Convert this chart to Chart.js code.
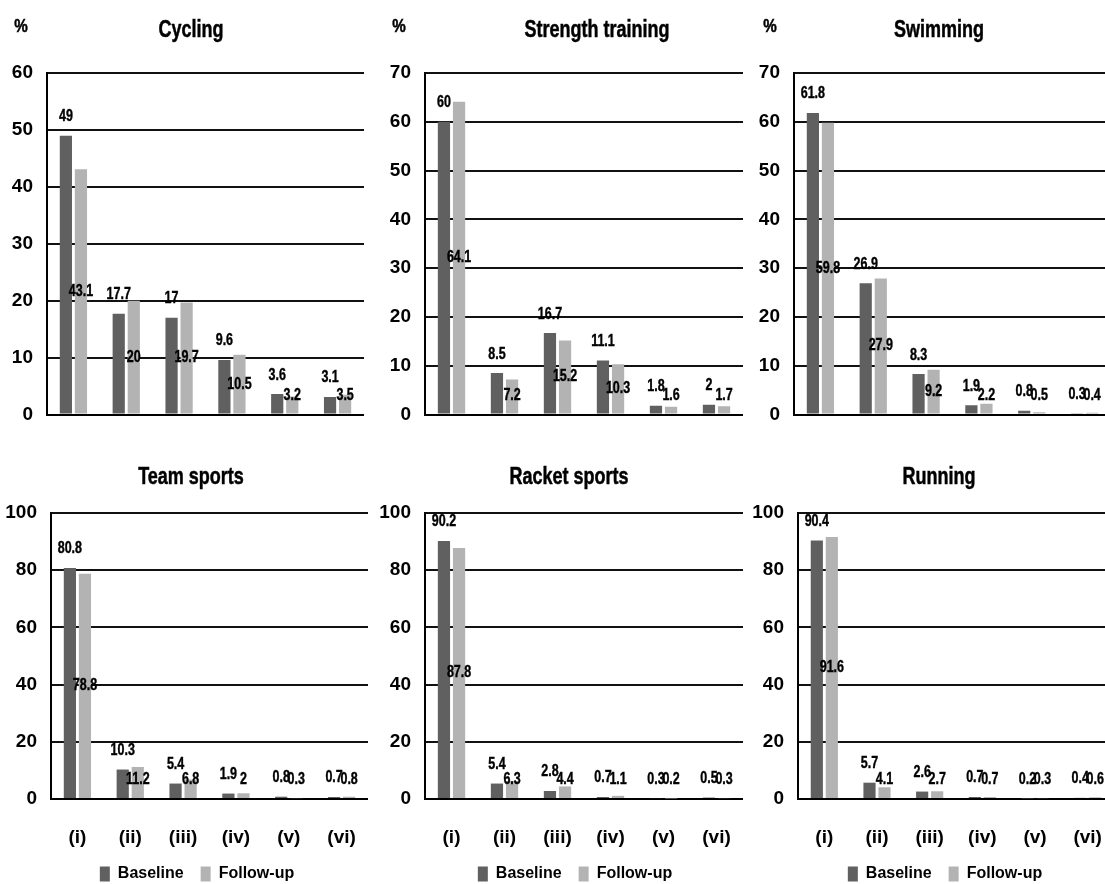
<!DOCTYPE html>
<html lang="en">
<head>
  <meta charset="UTF-8">
  <title>Participation by sport: baseline vs follow-up</title>
  <script src="https://cdn.jsdelivr.net/npm/chart.js"></script>
  <style>
    html, body {
      margin: 0;
      padding: 0;
      background: #fff;
      width: 1105px;
      height: 884px;
      overflow: hidden;
    }
    canvas {
      position: absolute;
    }
  </style>
</head>
<body>

  <canvas id="cycling"></canvas>
  <canvas id="strength"></canvas>
  <canvas id="swimming"></canvas>
  <canvas id="team"></canvas>
  <canvas id="racket"></canvas>
  <canvas id="running"></canvas>

  <script>
    // categories and series
    const categories = ['(i)', '(ii)', '(iii)', '(iv)', '(v)', '(vi)'];
    const seriesNames = ['Baseline', 'Follow-up'];

    const cyclingBaseline = [49, 17.7, 17, 9.6, 3.6, 3.1];
    const cyclingFollowUp = [43.1, 20, 19.7, 10.5, 3.2, 3.5];

    const strengthBaseline = [60, 8.5, 16.7, 11.1, 1.8, 2];
    const strengthFollowUp = [64.1, 7.2, 15.2, 10.3, 1.6, 1.7];

    const swimmingBaseline = [61.8, 26.9, 8.3, 1.9, 0.8, 0.3];
    const swimmingFollowUp = [59.8, 27.9, 9.2, 2.2, 0.5, 0.4];

    const teamBaseline = [80.8, 10.3, 5.4, 1.9, 0.8, 0.7];
    const teamFollowUp = [78.8, 11.2, 6.8, 2, 0.3, 0.8];

    const racketBaseline = [90.2, 5.4, 2.8, 0.7, 0.3, 0.5];
    const racketFollowUp = [87.8, 6.3, 4.4, 1.1, 0.2, 0.3];

    const runningBaseline = [90.4, 5.7, 2.6, 0.7, 0.2, 0.4];
    const runningFollowUp = [91.6, 4.1, 2.7, 0.7, 0.3, 0.6];

    // y axis ranges (max, step)
    const topRowAxis = { cycling: [60, 10], strength: [70, 10], swimming: [70, 10] };
    const bottomRowAxis = [100, 20];

    const FONT = "'Liberation Sans', Arial, sans-serif";
    const DARK = '#606060';
    const LIGHT = '#b3b3b3';

    // squeeze drawn text sideways so it looks like a narrow bold face
    function narrowText(ctx, text, x, y, squeeze) {
      ctx.save();
      ctx.translate(x, y);
      ctx.scale(squeeze, 1);
      ctx.strokeText(text, 0, 0);
      ctx.fillText(text, 0, 0);
      ctx.restore();
    }

    // title and "%" text, plus moving the legend sideways
    const panelText = {
      id: 'panelText',
      afterLayout(chart, args, opts) {
        if (chart.legend && opts.legendShift) {
          chart.legend.left += opts.legendShift;
          chart.legend.right += opts.legendShift;
        }
      },
      afterDraw(chart, args, opts) {
        const ctx = chart.ctx;
        ctx.save();
        ctx.fillStyle = '#000';
        ctx.strokeStyle = '#000';
        ctx.lineWidth = 0.5;
        ctx.textAlign = 'center';
        ctx.textBaseline = 'middle';
        ctx.font = 'bold 24px ' + FONT;
        narrowText(ctx, opts.title, opts.titleX, opts.titleY, 0.75);
        if (opts.pctX != null) {
          ctx.font = 'bold 19px ' + FONT;
          narrowText(ctx, '%', opts.pctX, opts.pctY, 0.8);
        }
        ctx.restore();
      }
    };

    // value labels: baseline above the bar, follow-up in the middle of the bar
    const barLabels = {
      id: 'barLabels',
      afterDatasetsDraw(chart) {
        const ctx = chart.ctx;
        const zero = chart.scales.y.getPixelForValue(0);
        ctx.save();
        ctx.fillStyle = '#000';
        ctx.strokeStyle = '#000';
        ctx.lineWidth = 0.4;
        ctx.textAlign = 'center';
        ctx.textBaseline = 'middle';
        ctx.font = 'bold 16px ' + FONT;
        chart.data.datasets.forEach((ds, di) => {
          chart.getDatasetMeta(di).data.forEach((bar, i) => {
            let y;
            if (di === 0) {
              y = bar.y - 19;
            } else {
              y = Math.min((bar.y + bar.base) / 2, zero - 19);
            }
            narrowText(ctx, String(ds.data[i]), bar.x, y, 0.78);
          });
        });
        ctx.restore();
      }
    };

    function makePanel(p) {
      const el = document.getElementById(p.id);
      el.width = p.width;
      el.height = p.height;
      el.style.left = p.left + 'px';
      el.style.top = p.top + 'px';
      el.style.width = p.width + 'px';
      el.style.height = p.height + 'px';

      const yWidth = p.axisX - p.left;

      return new Chart(el, {
        type: 'bar',
        data: {
          labels: categories,
          datasets: [
            {
              label: seriesNames[0],
              data: p.baseline,
              backgroundColor: DARK,
              categoryPercentage: 0.57,
              barPercentage: 0.81
            },
            {
              label: seriesNames[1],
              data: p.followUp,
              backgroundColor: LIGHT,
              categoryPercentage: 0.57,
              barPercentage: 0.81
            }
          ]
        },
        options: {
          responsive: false,
          animation: false,
          layout: {
            padding: { left: 0, right: 0, top: 73, bottom: p.padBottom }
          },
          plugins: {
            legend: {
              display: p.legend,
              position: 'bottom',
              labels: {
                boxWidth: 10,
                boxHeight: 15,
                padding: 17,
                color: '#000',
                font: { family: FONT, size: 16, weight: 'bold' }
              }
            },
            tooltip: { enabled: false },
            panelText: {
              title: p.title,
              titleX: p.titleX - p.left,
              titleY: p.titleY - p.top,
              pctX: p.pct ? p.pct[0] - p.left : null,
              pctY: p.pct ? p.pct[1] - p.top : null,
              legendShift: p.legendCenter ? p.legendCenter - p.left - p.width / 2 : 0
            }
          },
          scales: {
            x: {
              grid: { display: false },
              border: { display: true, color: '#000', width: 2 },
              ticks: {
                display: p.legend,
                padding: 19,
                color: '#000',
                font: { family: FONT, size: 19, weight: 'bold' }
              },
              afterFit: s => {
                s.height = p.xHeight;
                s.paddingLeft = 0;
                s.paddingRight = 0;
              }
            },
            y: {
              min: 0,
              max: p.yMax,
              grid: { color: '#111', lineWidth: 2, drawTicks: false },
              border: { display: true, color: '#000', width: 2 },
              ticks: {
                stepSize: p.yStep,
                padding: 14,
                color: '#000',
                font: { family: FONT, size: 19, weight: 'bold' }
              },
              afterFit: s => { s.width = yWidth; }
            }
          }
        },
        plugins: [barLabels, panelText]
      });
    }

    const topDefaults = { top: 0, height: 440, padBottom: 23, xHeight: 0, legend: false, titleY: 30 };
    const bottomDefaults = { top: 440, height: 452, padBottom: 0, xHeight: 50, legend: true, titleY: 477, yMax: bottomRowAxis[0], yStep: bottomRowAxis[1] };

    makePanel(Object.assign({}, topDefaults, {
      id: 'cycling', title: 'Cycling', baseline: cyclingBaseline, followUp: cyclingFollowUp,
      yMax: topRowAxis.cycling[0], yStep: topRowAxis.cycling[1],
      left: 0, width: 364, axisX: 47, titleX: 191, pct: [21, 27]
    }));
    makePanel(Object.assign({}, topDefaults, {
      id: 'strength', title: 'Strength training', baseline: strengthBaseline, followUp: strengthFollowUp,
      yMax: topRowAxis.strength[0], yStep: topRowAxis.strength[1],
      left: 366, width: 377, axisX: 425, titleX: 597, pct: [399, 27]
    }));
    makePanel(Object.assign({}, topDefaults, {
      id: 'swimming', title: 'Swimming', baseline: swimmingBaseline, followUp: swimmingFollowUp,
      yMax: topRowAxis.swimming[0], yStep: topRowAxis.swimming[1],
      left: 743, width: 368, axisX: 794, titleX: 939, pct: [770, 27]
    }));

    makePanel(Object.assign({}, bottomDefaults, {
      id: 'team', title: 'Team sports', baseline: teamBaseline, followUp: teamFollowUp,
      left: 0, width: 368, axisX: 51, titleX: 191, legendCenter: 197
    }));
    makePanel(Object.assign({}, bottomDefaults, {
      id: 'racket', title: 'Racket sports', baseline: racketBaseline, followUp: racketFollowUp,
      left: 368, width: 375, axisX: 425, titleX: 569, legendCenter: 575
    }));
    makePanel(Object.assign({}, bottomDefaults, {
      id: 'running', title: 'Running', baseline: runningBaseline, followUp: runningFollowUp,
      left: 743, width: 371, axisX: 798, titleX: 939, legendCenter: 945
    }));
  </script>

</body>
</html>
